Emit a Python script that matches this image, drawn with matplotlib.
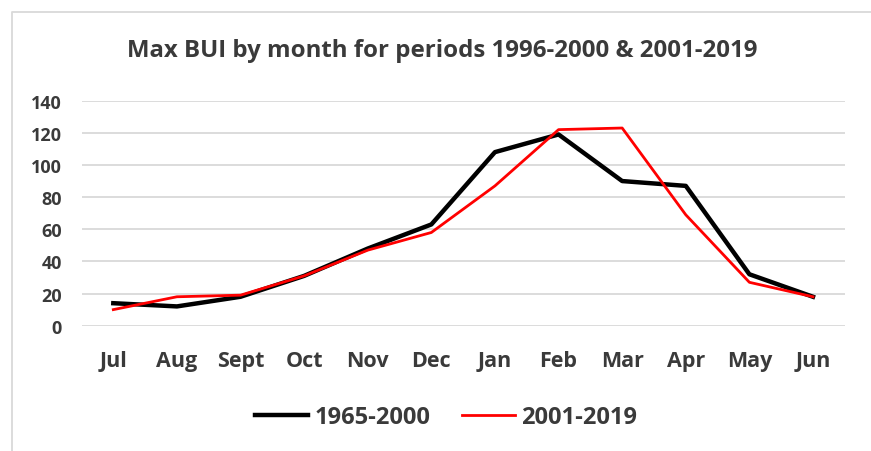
import matplotlib
matplotlib.use('Agg')
import matplotlib.pyplot as plt
from matplotlib.lines import Line2D

plt.rcParams['font.family'] = ['Open Sans', 'DejaVu Sans']

months = ['Jul', 'Aug', 'Sept', 'Oct', 'Nov', 'Dec', 'Jan', 'Feb', 'Mar', 'Apr', 'May', 'Jun']
bui_1965_2000 = [14, 12, 18, 31, 48, 63, 108, 119, 90, 87, 32, 18]
bui_2001_2019 = [10, 18, 19, 31, 47, 58, 87, 122, 123, 69, 27, 18]
yticks = [0, 20, 40, 60, 80, 100, 120, 140]

txt = '#3a3a3a'
fig = plt.figure(figsize=(8.71, 4.52), dpi=100)
ax = fig.add_axes([81.5/871, 1-326.7/452, (844.8-81.5)/871, (326.7-101.7)/452])

xx = range(len(months))
ax.plot(xx, bui_1965_2000, color='black', lw=3.2, label='1965-2000', solid_joinstyle='round')
ax.plot(xx, bui_2001_2019, color='#ff0000', lw=2.0, label='2001-2019')

ax.set_xlim(-0.5, len(months)-0.5)
ax.set_ylim(0, 140)
ax.set_yticks(yticks)
ax.set_xticks(list(xx))
ax.set_xticklabels(months)
ax.grid(axis='y', color='#d9d9d9', lw=1.3)
ax.set_axisbelow(True)
for s in ax.spines.values():
    s.set_visible(False)
ax.tick_params(length=0, labelcolor=txt)
ax.tick_params(axis='y', pad=14, labelsize=13)
ax.tick_params(axis='x', pad=17.5, labelsize=15.5)
for lab in ax.get_xticklabels() + ax.get_yticklabels():
    lab.set_fontweight('bold')

fig.text(442/871, 1-51/452, 'Max BUI by month for periods 1996-2000 & 2001-2019',
         ha='center', va='center', fontsize=17.3, fontweight='bold', color=txt)

ax.legend(loc='center', bbox_to_anchor=(446/871, 1-418/452), bbox_transform=fig.transFigure,
          ncol=2, frameon=False, prop={'size': 17, 'weight': 'bold'}, labelcolor=txt,
          handlelength=2.25, columnspacing=1.35, handletextpad=0.25)

# chart border
fig.add_artist(Line2D([12/871, 12/871, 1], [0, 1-13/452, 1-13/452], color='#d9d9d9', lw=1.3,
                      transform=fig.transFigure))

fig.savefig('out.png', dpi=100)
